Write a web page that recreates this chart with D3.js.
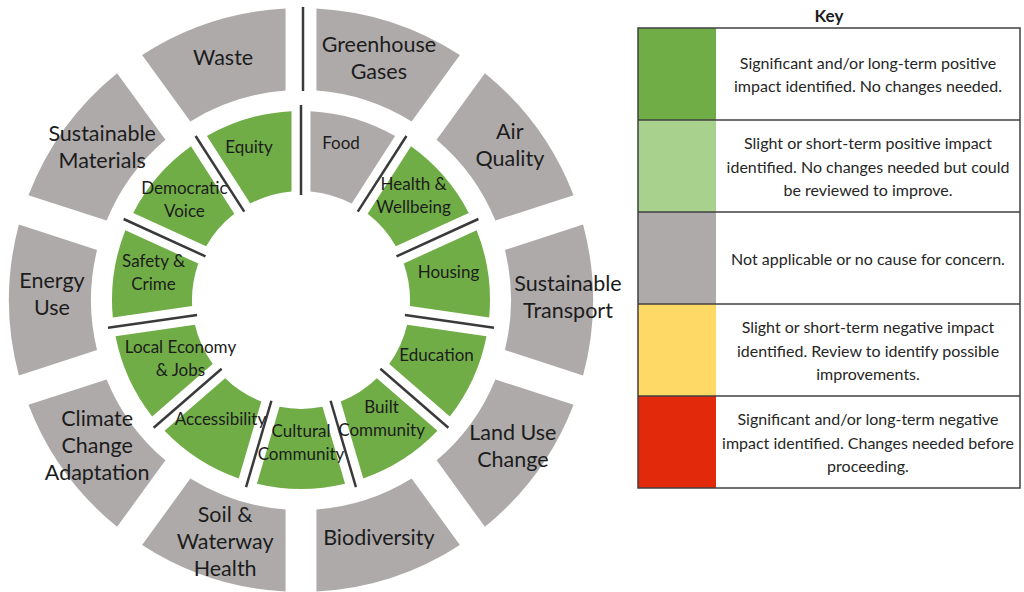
<!DOCTYPE html>
<meta charset='utf-8'>
<style>
  body { margin: 0; background: #fff; }
  text { font-family: Lato, 'Open Sans', sans-serif; fill: #1c1c1c; }
</style>
<div id='chart'></div>
<script src='https://d3js.org/d3.v7.min.js'></script>
<script>

  // outer ring (environment), clockwise from the top
  var outerLabels = [
    ['Greenhouse', 'Gases'], ['Air', 'Quality'], ['Sustainable', 'Transport'],
    ['Land Use', 'Change'], ['Biodiversity'], ['Soil &', 'Waterway', 'Health'],
    ['Climate', 'Change', 'Adaptation'], ['Energy', 'Use'],
    ['Sustainable', 'Materials'], ['Waste']
  ];
  var outerStatus = ['na', 'na', 'na', 'na', 'na', 'na', 'na', 'na', 'na', 'na'];

  // inner ring (social), clockwise from the top
  var innerLabels = [
    ['Food'], ['Health &', 'Wellbeing'], ['Housing'], ['Education'],
    ['Built', 'Community'], ['Cultural', 'Community'], ['Accessibility'],
    ['Local Economy', '& Jobs'], ['Safety &', 'Crime'], ['Democratic', 'Voice'],
    ['Equity']
  ];
  var innerStatus = ['na', 'pos', 'pos', 'pos', 'pos', 'pos', 'pos', 'pos', 'pos', 'pos', 'pos'];

  // key
  var keyCodes = ['pos', 'slightPos', 'na', 'slightNeg', 'neg'];
  var keyText = [
    ['Significant and/or long-term positive', 'impact identified. No changes needed.'],
    ['Slight or short-term positive impact', 'identified. No changes needed but could', 'be reviewed to improve.'],
    ['Not applicable or no cause for concern.'],
    ['Slight or short-term negative impact', 'identified. Review to identify possible', 'improvements.'],
    ['Significant and/or long-term negative', 'impact identified. Changes needed before', 'proceeding.']
  ];

  var color = d3.scaleOrdinal()
    .domain(keyCodes)
    .range(['#70ad47', '#a9d18e', '#aeaaaa', '#ffd966', '#e2290b']);

  var width = 1024, height = 592;
  var cx = 301, cy = 300;

  var svg = d3.select('#chart')
    .append('svg')
      .attr('width', width)
      .attr('height', height);

  var wheel = svg.append('g')
      .attr('transform', 'translate(' + cx + ',' + cy + ')');

  var pie = d3.pie().value(function() { return 1; }).sort(null);

  var outerArc = d3.arc()
    .innerRadius(210).outerRadius(292)
    .padRadius(100).padAngle(0.31);
  var innerArc = d3.arc()
    .innerRadius(109).outerRadius(189)
    .padRadius(100).padAngle(0.19);

  var outerPie = pie(outerLabels);
  var innerPie = pie(innerLabels);

  wheel.append('g')
    .selectAll('path')
    .data(outerPie)
    .enter()
    .append('path')
      .attr('d', outerArc)
      .style('fill', function(d, i) { return color(outerStatus[i]); });

  wheel.append('g')
    .selectAll('path')
    .data(innerPie)
    .enter()
    .append('path')
      .attr('d', innerArc)
      .style('fill', function(d, i) { return color(innerStatus[i]); });

  // divider lines
  function spoke(a, r0, r1) {
    return [[r0 * Math.sin(a), -r0 * Math.cos(a)], [r1 * Math.sin(a), -r1 * Math.cos(a)]];
  }
  wheel.append('g')
    .selectAll('line')
    .data(innerPie)
    .enter()
    .append('line')
      .each(function(d) {
        var p = spoke(d.startAngle, 105, 195);
        d3.select(this)
          .attr('x1', p[0][0]).attr('y1', p[0][1])
          .attr('x2', p[1][0]).attr('y2', p[1][1]);
      })
      .style('stroke', '#3a3a3a')
      .style('stroke-width', 2.5);

  var topLine = spoke(0, 209, 293);
  wheel.append('line')
    .attr('x1', topLine[0][0] + 2).attr('y1', topLine[0][1])
    .attr('x2', topLine[1][0] + 2).attr('y2', topLine[1][1])
    .style('stroke', '#3a3a3a')
    .style('stroke-width', 2.5);

  // labels; a few are shifted by hand the way the original drawing has them
  var nudgeOuter = {2: [15, -1], 1: [5, -4], 3: [8, 0], 8: [5, -2], 7: [3, -4], 5: [2, 4]};
  var nudgeInner = {0: [-2, -8], 10: [-10, -4], 7: [15, 3], 9: [-4, 4]};

  function addLabels(data, r, size, lh, dy, nudge) {
    var g = wheel.append('g');
    data.forEach(function(d, i) {
      var a = (d.startAngle + d.endAngle) / 2;
      var n = nudge[i] || [0, 0];
      var x = r * Math.sin(a) + n[0], y = -r * Math.cos(a) + dy + n[1];
      var lines = d.data;
      lines.forEach(function(s, j) {
        g.append('text')
          .attr('x', x)
          .attr('y', y + (j - (lines.length - 1) / 2) * lh)
          .attr('text-anchor', 'middle')
          .attr('dominant-baseline', 'central')
          .style('font-size', size + 'px')
          .text(s);
      });
    });
  }
  addLabels(outerPie, 252, 21.5, 27, -3, nudgeOuter);
  addLabels(innerPie, 149, 17, 23, -7, nudgeInner);

  // key table
  var kx = 638, kw = 382, sw = 78;
  var rowY = d3.scaleBand()
    .domain(d3.range(keyCodes.length))
    .range([28, 488]);

  svg.append('text')
    .attr('x', 829)
    .attr('y', 15)
    .attr('text-anchor', 'middle')
    .attr('dominant-baseline', 'central')
    .style('font-size', '17px')
    .style('font-weight', 'bold')
    .text('Key');

  var rows = svg.append('g')
    .selectAll('g')
    .data(keyCodes)
    .enter()
    .append('g')
      .attr('transform', function(d, i) { return 'translate(0,' + rowY(i) + ')'; });

  rows.append('rect')
    .attr('x', kx)
    .attr('width', sw)
    .attr('height', rowY.bandwidth())
    .style('fill', function(d) { return color(d); });

  rows.each(function(d, i) {
    var lines = keyText[i];
    var g = d3.select(this);
    lines.forEach(function(s, j) {
      g.append('text')
        .attr('x', kx + sw + (kw - sw) / 2)
        .attr('y', rowY.bandwidth() / 2 + (j - (lines.length - 1) / 2) * 23.5)
        .attr('text-anchor', 'middle')
        .attr('dominant-baseline', 'central')
        .style('font-size', '16px')
        .style('fill', '#262626')
        .text(s);
    });
  });

  svg.append('g')
    .selectAll('line')
    .data(d3.range(1, keyCodes.length))
    .enter()
    .append('line')
      .attr('x1', kx).attr('x2', kx + kw)
      .attr('y1', function(d) { return rowY(d); })
      .attr('y2', function(d) { return rowY(d); })
      .style('stroke', '#404040')
      .style('stroke-width', 1.5);

  svg.append('rect')
    .attr('x', kx)
    .attr('y', 28)
    .attr('width', kw)
    .attr('height', 460)
    .style('fill', 'none')
    .style('stroke', '#404040')
    .style('stroke-width', 1.5);

</script>
